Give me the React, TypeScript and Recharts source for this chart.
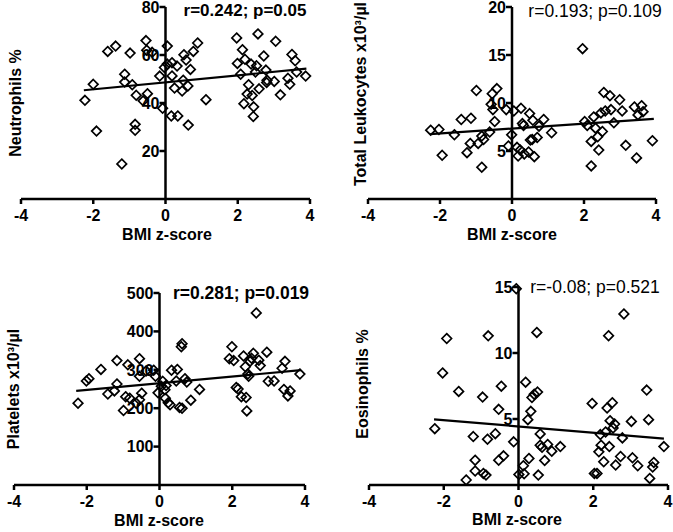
import { ScatterChart, Scatter, XAxis, YAxis, ReferenceLine } from "recharts";

// BMI z-score (x) and lab values (y)
const bmiNeut = [-2.23, -2.0, -1.91, -1.6, -1.38, -1.21, -1.13, -1.13, -0.98, -0.92, -0.84, -0.84, -0.81, -0.62, -0.54, -0.52, -0.5, -0.37, -0.16, -0.08, 0.05, -0.03, 0.05, 0.16, 0.18, 0.18, 0.25, 0.32, 0.34, 0.46, 0.49, 0.51, 0.57, 0.62, 0.63, 0.69, 0.77, 0.89, 1.12, 1.97, 1.99, 2.08, 2.13, 2.17, 2.2, 2.3, 2.26, 2.37, 2.4, 2.44, 2.43, 2.49, 2.52, 2.56, 2.59, 2.72, 2.78, 2.81, 2.8, 3.01, 3.05, 3.18, 3.39, 3.44, 3.5, 3.59, 3.63, 3.88];
const neutrophils = [41.1, 47.8, 28.3, 61.5, 63.7, 14.6, 52, 48.7, 60.8, 47.6, 31.1, 28.6, 43.2, 40.9, 66, 62, 43.9, 61.1, 51.2, 37.8, 63.7, 54.8, 56.2, 34.6, 56.8, 51.3, 46.2, 55.4, 34.6, 45, 49.5, 60.1, 57.9, 47.1, 30.8, 54, 61.5, 65, 41.4, 67.1, 56.5, 52, 62.2, 39.7, 58.2, 47.6, 43.7, 56.2, 43.1, 38.4, 34.4, 52.9, 55.5, 68.8, 45.9, 59.6, 53.7, 49.5, 48.5, 49, 65.7, 43.4, 50.3, 47.8, 60.2, 57.6, 52.9, 51.2];

const bmiLeuk = [-2.26, -2.03, -1.94, -1.6, -1.41, -1.25, -1.16, -1.14, -0.99, -0.94, -0.84, -0.84, -0.79, -0.62, -0.58, -0.55, -0.53, -0.48, -0.42, -0.16, -0.1, -0.01, 0.05, 0.14, 0.17, 0.23, 0.25, 0.29, 0.32, 0.34, 0.46, 0.49, 0.51, 0.56, 0.58, 0.62, 0.7, 0.75, 0.88, 1.1, 1.96, 2.02, 2.09, 2.2, 2.2, 2.27, 2.32, 2.38, 2.41, 2.47, 2.51, 2.55, 2.59, 2.72, 2.75, 2.83, 2.99, 3.06, 3.16, 3.4, 3.46, 3.5, 3.6, 3.64, 3.9];
const leukocytes = [7.17, 7.24, 4.55, 6.69, 8.28, 4.83, 5.79, 8.41, 11.3, 5.79, 3.31, 6.55, 6.2, 6.97, 9.86, 10.97, 9.31, 8.07, 11.5, 9.31, 5.52, 6.69, 9.17, 5.38, 4.48, 5.1, 9.45, 7.86, 7.66, 4.69, 4.9, 8.9, 6.14, 6.2, 8.2, 4.41, 6.41, 7.59, 8.28, 6.9, 15.66, 8.07, 7.66, 6.0, 3.45, 8.55, 7.38, 6.48, 5.1, 8.97, 7.03, 11.1, 9.17, 10.76, 9.31, 7.93, 10.34, 9.17, 5.59, 9.59, 4.28, 8.76, 9.72, 9.1, 6.07];

const bmiPlt = [-2.24, -2.01, -1.94, -1.61, -1.42, -1.24, -1.17, -1.17, -0.99, -0.93, -0.87, -0.82, -0.64, -0.55, -0.55, -0.55, -0.49, -0.37, -0.16, -0.11, -0.04, 0.05, 0.09, 0.15, 0.18, 0.16, 0.24, 0.29, 0.33, 0.46, 0.49, 0.55, 0.62, 0.6, 0.62, 0.7, 0.75, 0.86, 1.1, 1.99, 1.92, 2.04, 2.11, 2.16, 2.25, 2.31, 2.36, 2.38, 2.4, 2.43, 2.45, 2.49, 2.53, 2.58, 2.66, 2.73, 2.77, 2.95, 2.99, 3.15, 3.37, 3.45, 3.42, 3.53, 3.59, 3.86];
const platelets = [213, 271, 277, 301, 237, 245, 263, 324, 194, 230, 313, 226, 213, 222, 329, 283, 239, 297, 299, 283, 240, 257, 270, 248, 259, 226, 214, 209, 299, 271, 301, 202, 200, 360, 368, 277, 268, 221, 249, 360, 329, 324, 254, 250, 230, 336, 308, 228, 193, 289, 283, 322, 330, 343, 448, 325, 311, 346, 270, 271, 304, 322, 249, 232, 245, 289];

const bmiEos = [-2.24, -2.03, -1.92, -1.6, -1.4, -1.21, -1.16, -1.16, -0.96, -0.94, -0.87, -0.83, -0.81, -0.62, -0.53, -0.53, -0.46, -0.4, -0.13, -0.06, 0.01, 0.15, 0.13, 0.19, 0.25, 0.28, 0.33, 0.36, 0.42, 0.49, 0.51, 0.53, 0.58, 0.58, 0.63, 0.7, 0.78, 0.89, 1.12, 1.97, 2.03, 2.1, 2.15, 2.19, 2.21, 2.28, 2.33, 2.37, 2.41, 2.43, 2.45, 2.51, 2.53, 2.57, 2.6, 2.73, 2.78, 2.82, 3.02, 3.05, 3.19, 3.43, 3.48, 3.51, 3.59, 3.62, 3.89];
const eosinophils = [4.27, 8.49, 11.1, 7.09, 0.38, 3.67, 1.88, 1.06, 6.66, 0.88, 0.75, 3.47, 11.3, 3.89, 5.73, 1.88, 7.49, 2.21, 3.27, 14.87, 0.8, 0.85, 1.46, 7.79, 4.95, 2.01, 5.58, 6.63, 6.88, 11.56, 7.04, 0.75, 3.87, 3.02, 2.86, 1.86, 3.07, 2.56, 2.91, 6.18, 0.88, 0.88, 2.51, 3.82, 3.02, 1.76, 4.02, 5.83, 11.31, 2.91, 4.87, 6.23, 4.32, 4.62, 1.51, 2.16, 3.57, 12.96, 4.82, 2.06, 1.46, 7.19, 4.95, 0.5, 1.36, 1.71, 2.91];

// regression line end points [x0, x1] / [y0, y1]
const neutFitX = [-2.26, 3.9];
const neutFitY = [45.3, 54.3];
const leukFitX = [-2.27, 3.94];
const leukFitY = [6.76, 8.34];
const pltFitX = [-2.29, 3.89];
const pltFitY = [245, 299];
const eosFitX = [-2.26, 3.89];
const eosFitY = [4.97, 3.52];

const xTicks = [-4, -2, 0, 2, 4];
const neutTicks = [20, 40, 60, 80];
const leukTicks = [5, 10, 15, 20];
const pltTicks = [100, 200, 300, 400, 500];
const eosTicks = [5, 10, 15];

const FONT = "'Liberation Sans', Arial, Helvetica, sans-serif";
const MT = 10;
const MR = 10;
const ML = 20;

const Diamond = (props: any) => {
  const { cx, cy } = props;
  const s = 4.8;
  return (
    <path
      d={`M${cx},${cy - s}L${cx + s},${cy}L${cx},${cy + s}L${cx - s},${cy}Z`}
      fill="none"
      stroke="#000"
      strokeWidth={1.7}
    />
  );
};

const YTick = (props: any) => {
  const { y, payload, zx } = props;
  return (
    <g>
      <line x1={zx - 6} x2={zx} y1={y} y2={y} stroke="#000" strokeWidth={2.5} />
      <text x={zx - 6} y={y} dy={5.8} textAnchor="end" fontSize={16} fontWeight="bold" fill="#000" fontFamily={FONT}>
        {payload.value}
      </text>
    </g>
  );
};

interface PanelProps {
  xs: number[];
  ys: number[];
  fitX: number[];
  fitY: number[];
  yMax: number;
  yTicks: number[];
  left: number;
  top: number;
  width: number;
  height: number;
}

function Panel({ xs, ys, fitX, fitY, yMax, yTicks, left, top, width, height }: PanelProps) {
  const data = xs.map((x, i) => ({ x, y: ys[i] }));
  // pixel position of x = 0 inside the chart svg, where the y axis sits
  const zx = ML + 1 + width / 2;
  return (
    <div style={{ position: "absolute", left: left - ML - 1, top: top - MT }}>
      <ScatterChart width={ML + 1 + width + MR} height={height + MT + 30} margin={{ top: MT, right: MR, left: ML, bottom: 0 }}>
        <XAxis
          dataKey="x"
          type="number"
          domain={[-4, 4]}
          ticks={xTicks}
          interval={0}
          height={30}
          axisLine={{ stroke: "#000", strokeWidth: 2.5 }}
          tickLine={{ stroke: "#000", strokeWidth: 2.5 }}
          tickSize={5}
          tickMargin={6}
          tick={{ fill: "#000", fontSize: 16, fontWeight: "bold", fontFamily: FONT }}
        />
        <YAxis
          dataKey="y"
          type="number"
          domain={[0, yMax]}
          ticks={yTicks}
          interval={0}
          width={1}
          axisLine={false}
          tickLine={false}
          tick={(p: any) => <YTick {...p} zx={zx} />}
        />
        <ReferenceLine x={0} stroke="#000" strokeWidth={2.5} />
        <ReferenceLine
          segment={[
            { x: fitX[0], y: fitY[0] },
            { x: fitX[1], y: fitY[1] },
          ]}
          stroke="#000"
          strokeWidth={2.2}
        />
        <Scatter data={data} shape={Diamond} isAnimationActive={false} />
      </ScatterChart>
    </div>
  );
}

export default function App() {
  const bold = { fontWeight: "bold" as const };
  return (
    <div
      style={{
        position: "absolute",
        left: 0,
        top: 0,
        width: 673,
        height: 532,
        overflow: "hidden",
        background: "#fff",
        fontFamily: FONT,
      }}
    >
      <Panel xs={bmiNeut} ys={neutrophils} fitX={neutFitX} fitY={neutFitY} yMax={80} yTicks={neutTicks} left={21} top={7} width={289} height={192} />
      <Panel xs={bmiLeuk} ys={leukocytes} fitX={leukFitX} fitY={leukFitY} yMax={20} yTicks={leukTicks} left={368} top={7} width={288} height={192} />
      <Panel xs={bmiPlt} ys={platelets} fitX={pltFitX} fitY={pltFitY} yMax={500} yTicks={pltTicks} left={14} top={293} width={291} height={192} />
      <Panel xs={bmiEos} ys={eosinophils} fitX={eosFitX} fitY={eosFitY} yMax={15} yTicks={eosTicks} left={369} top={287} width={299} height={198} />

      <svg width={673} height={532} style={{ position: "absolute", left: 0, top: 0, pointerEvents: "none" }} fontFamily={FONT} fill="#000">
        {/* correlation stats */}
        <text x={245} y={16} fontSize={17} textAnchor="middle" {...bold}>r=0.242; p=0.05</text>
        <text x={595} y={17} fontSize={17.5} textAnchor="middle">r=0.193; p=0.109</text>
        <text x={241} y={299} fontSize={17.5} textAnchor="middle" {...bold}>r=0.281; p=0.019</text>
        <text x={595} y={293} fontSize={17.5} textAnchor="middle">r=-0.08; p=0.521</text>

        {/* x titles */}
        <text x={167} y={240} fontSize={16} textAnchor="middle" {...bold}>BMI z-score</text>
        <text x={512} y={240} fontSize={16} textAnchor="middle" {...bold}>BMI z-score</text>
        <text x={159} y={526} fontSize={16} textAnchor="middle" {...bold}>BMI z-score</text>
        <text x={517} y={525} fontSize={16} textAnchor="middle" {...bold}>BMI z-score</text>

        {/* y titles */}
        <text transform="translate(21,103) rotate(-90)" fontSize={16} textAnchor="middle" {...bold}>Neutrophils %</text>
        <text transform="translate(366,94) rotate(-90)" fontSize={16} textAnchor="middle" {...bold}>Total Leukocytes x10³/µl</text>
        <text transform="translate(19,389) rotate(-90)" fontSize={16} textAnchor="middle" {...bold}>Platelets x10³/µl</text>
        <text transform="translate(368,384) rotate(-90)" fontSize={16} textAnchor="middle" {...bold}>Eosinophils %</text>
      </svg>
    </div>
  );
}
